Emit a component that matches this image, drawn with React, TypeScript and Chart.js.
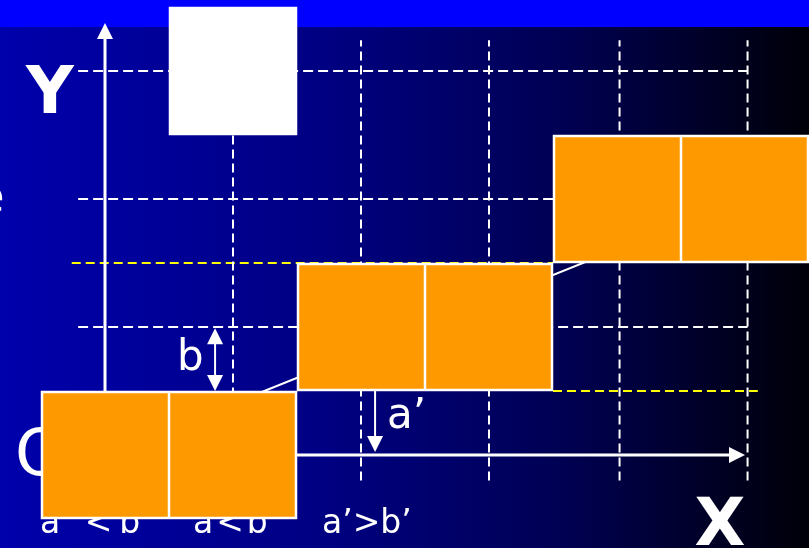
import React, { useEffect, useRef } from "react";
import { Chart, registerables } from "chart.js";

Chart.register(...registerables);

// Logical diagram coordinates (one grid cell = 1 unit, origin O at 0,0)
const xMin = -0.8203;
const xMax = 5.5;
const yMin = -0.7266;
const yMax = 3.5547;

// dashed white grid
const gridXs = [1, 2, 3, 4.02, 5.02];
const gridYs = [1, 2, 3];
const gridXSpan = [-0.21, 5.02];
const gridYSpan = [-0.2, 3.24];

// yellow dashed guide lines
const yellowYs = [1.5, 0.5];
const yellowFrom = [-0.26, 3.5];
const yellowTo = [3.5, 5.1];

// diagonal line from origin
const diagX = [0, 5.5];
const diagY = [0, 2.21];

// orange blocks (centre x, centre y), each two cells wide
const blockCx = [0.5, 2.5, 4.5];
const blockCy = [0, 1, 2];
const blockW = [2, 2, 2];
const blockH = [1, 1, 1];

// white block
const whiteCx = [1];
const whiteCy = [3];

// arrows
const arrowX1 = [0, 0, 0.86, 2.11];
const arrowY1 = [-0.5, 0, 0.5, 0.5];
const arrowX2 = [0, 5.0, 0.86, 2.11];
const arrowY2 = [3.375, 0, 0.99, 0.023];
const arrowBoth = [false, false, true, false];
const arrowWidth = [3, 3, 2, 2];

// texts
const labels = ["Y", "X", "O", "e", "b", "a\u2019", "a\u2019<b\u2019", "a<b", "a\u2019>b\u2019"];
const labelX = [-0.43, 4.805, -0.703, -0.785, 0.5625, 2.203, -0.508, 0.6875, 1.695];
const labelY = [2.672, -0.703, -0.156, 1.898, 0.664, 0.211, -0.609, -0.609, -0.609];
const labelSize = [66, 66, 64, 46, 42, 42, 33, 33, 33];
const labelBold = [true, true, false, false, false, false, false, false, false];
const labelAlign = ["center", "center", "left", "right", "left", "left", "left", "left", "left"];
const labelSpacing = [0, 0, 0, 0, 0, 0, 7, 3, 0];

function seg(x1: number, y1: number, x2: number, y2: number) {
  return [
    { x: x1, y: y1 },
    { x: x2, y: y2 },
  ];
}

export default function App() {
  const ref = useRef<HTMLCanvasElement | null>(null);

  useEffect(() => {
    document.body.style.margin = "0";
    const canvas = ref.current;
    if (!canvas) return;

    const datasets: any[] = [];
    const lineBase = {
      showLine: true,
      pointRadius: 0,
      pointHoverRadius: 0,
      fill: false,
      tension: 0,
    };
    gridXs.forEach((gx) => {
      datasets.push({
        ...lineBase,
        data: seg(gx, gridYSpan[0], gx, gridYSpan[1]),
        borderColor: "#ffffff",
        borderWidth: 2,
        borderDash: [9, 5],
      });
    });
    gridYs.forEach((gy) => {
      datasets.push({
        ...lineBase,
        data: seg(gridXSpan[0], gy, gridXSpan[1], gy),
        borderColor: "#ffffff",
        borderWidth: 2,
        borderDash: [10, 5],
      });
    });
    yellowYs.forEach((yy, i) => {
      datasets.push({
        ...lineBase,
        data: seg(yellowFrom[i], yy, yellowTo[i], yy),
        borderColor: "#ffff00",
        borderWidth: 2,
        borderDash: [9, 5],
      });
    });
    datasets.push({
      ...lineBase,
      data: diagX.map((x, i) => ({ x, y: diagY[i] })),
      borderColor: "#ffffff",
      borderWidth: 2,
    });

    const bgPlugin = {
      id: "bg",
      beforeDraw(chart: any) {
        const { ctx, width, height } = chart;
        ctx.save();
        const g = ctx.createLinearGradient(0, 0, width, 0);
        g.addColorStop(0, "#0000ac");
        g.addColorStop(0.4, "#000082");
        g.addColorStop(0.7, "#000052");
        g.addColorStop(1, "#000008");
        ctx.fillStyle = g;
        ctx.fillRect(0, 0, width, height);
        ctx.fillStyle = "#0000ff";
        ctx.fillRect(0, 0, width, 27);
        ctx.restore();
      },
    };

    const overlayPlugin = {
      id: "overlay",
      afterDatasetsDraw(chart: any) {
        const { ctx } = chart;
        const xs = chart.scales.x;
        const ys = chart.scales.y;
        const px = (v: number) => xs.getPixelForValue(v);
        const py = (v: number) => ys.getPixelForValue(v);
        ctx.save();

        const head = (tx: number, ty: number, fx: number, fy: number) => {
          const ang = Math.atan2(ty - fy, tx - fx);
          const len = 16;
          const hw = 8;
          ctx.beginPath();
          ctx.moveTo(tx, ty);
          ctx.lineTo(tx - len * Math.cos(ang) + hw * Math.sin(ang), ty - len * Math.sin(ang) - hw * Math.cos(ang));
          ctx.lineTo(tx - len * Math.cos(ang) - hw * Math.sin(ang), ty - len * Math.sin(ang) + hw * Math.cos(ang));
          ctx.closePath();
          ctx.fill();
        };
        ctx.strokeStyle = "#ffffff";
        ctx.fillStyle = "#ffffff";
        arrowX1.forEach((_, i) => {
          const x1 = px(arrowX1[i]);
          const y1 = py(arrowY1[i]);
          const x2 = px(arrowX2[i]);
          const y2 = py(arrowY2[i]);
          const ang = Math.atan2(y2 - y1, x2 - x1);
          ctx.lineWidth = arrowWidth[i];
          ctx.beginPath();
          ctx.moveTo(x1 + (arrowBoth[i] ? 12 * Math.cos(ang) : 0), y1 + (arrowBoth[i] ? 12 * Math.sin(ang) : 0));
          ctx.lineTo(x2 - 12 * Math.cos(ang), y2 - 12 * Math.sin(ang));
          ctx.stroke();
          head(x2, y2, x1, y1);
          if (arrowBoth[i]) head(x1, y1, x2, y2);
        });

        ctx.textBaseline = "alphabetic";
        labels.forEach((t, i) => {
          ctx.font = `${labelBold[i] ? "bold " : ""}${labelSize[i]}px "DejaVu Sans", Verdana, sans-serif`;
          ctx.textAlign = labelAlign[i] as CanvasTextAlign;
          (ctx as any).letterSpacing = `${labelSpacing[i]}px`;
          ctx.fillStyle = "#ffffff";
          ctx.fillText(t, px(labelX[i]), py(labelY[i]));
        });
        (ctx as any).letterSpacing = "0px";

        const drawBlock = (cx: number, cy: number, w: number, h: number, fillC: string, divide: boolean) => {
          const l = px(cx - w / 2);
          const r = px(cx + w / 2);
          const t = py(cy + h / 2);
          const b = py(cy - h / 2);
          ctx.fillStyle = fillC;
          ctx.fillRect(l, t, r - l, b - t);
          ctx.strokeStyle = "#ffffff";
          ctx.lineWidth = 2.5;
          ctx.strokeRect(l + 1, t + 1, r - l - 2, b - t - 2);
          if (divide) {
            const m = px(cx);
            ctx.beginPath();
            ctx.moveTo(m, t);
            ctx.lineTo(m, b);
            ctx.stroke();
          }
        };
        blockCx.forEach((cx, i) => drawBlock(cx, blockCy[i], blockW[i], blockH[i], "#ff9900", true));
        whiteCx.forEach((cx, i) => drawBlock(cx, whiteCy[i], 1, 1, "#ffffff", false));

        ctx.restore();
      },
    };

    const chart = new Chart(canvas, {
      type: "scatter",
      data: { datasets },
      options: {
        animation: false,
        responsive: false,
        devicePixelRatio: 1,
        layout: { padding: 0 },
        events: [],
        plugins: { legend: { display: false }, tooltip: { enabled: false } },
        scales: {
          x: { type: "linear", min: xMin, max: xMax, display: false },
          y: { type: "linear", min: yMin, max: yMax, display: false },
        },
      },
      plugins: [bgPlugin, overlayPlugin],
    } as any);

    return () => chart.destroy();
  }, []);

  return (
    <div style={{ position: "fixed", left: 0, top: 0, width: 809, height: 548 }}>
      <canvas ref={ref} width={809} height={548} style={{ display: "block" }} />
    </div>
  );
}
